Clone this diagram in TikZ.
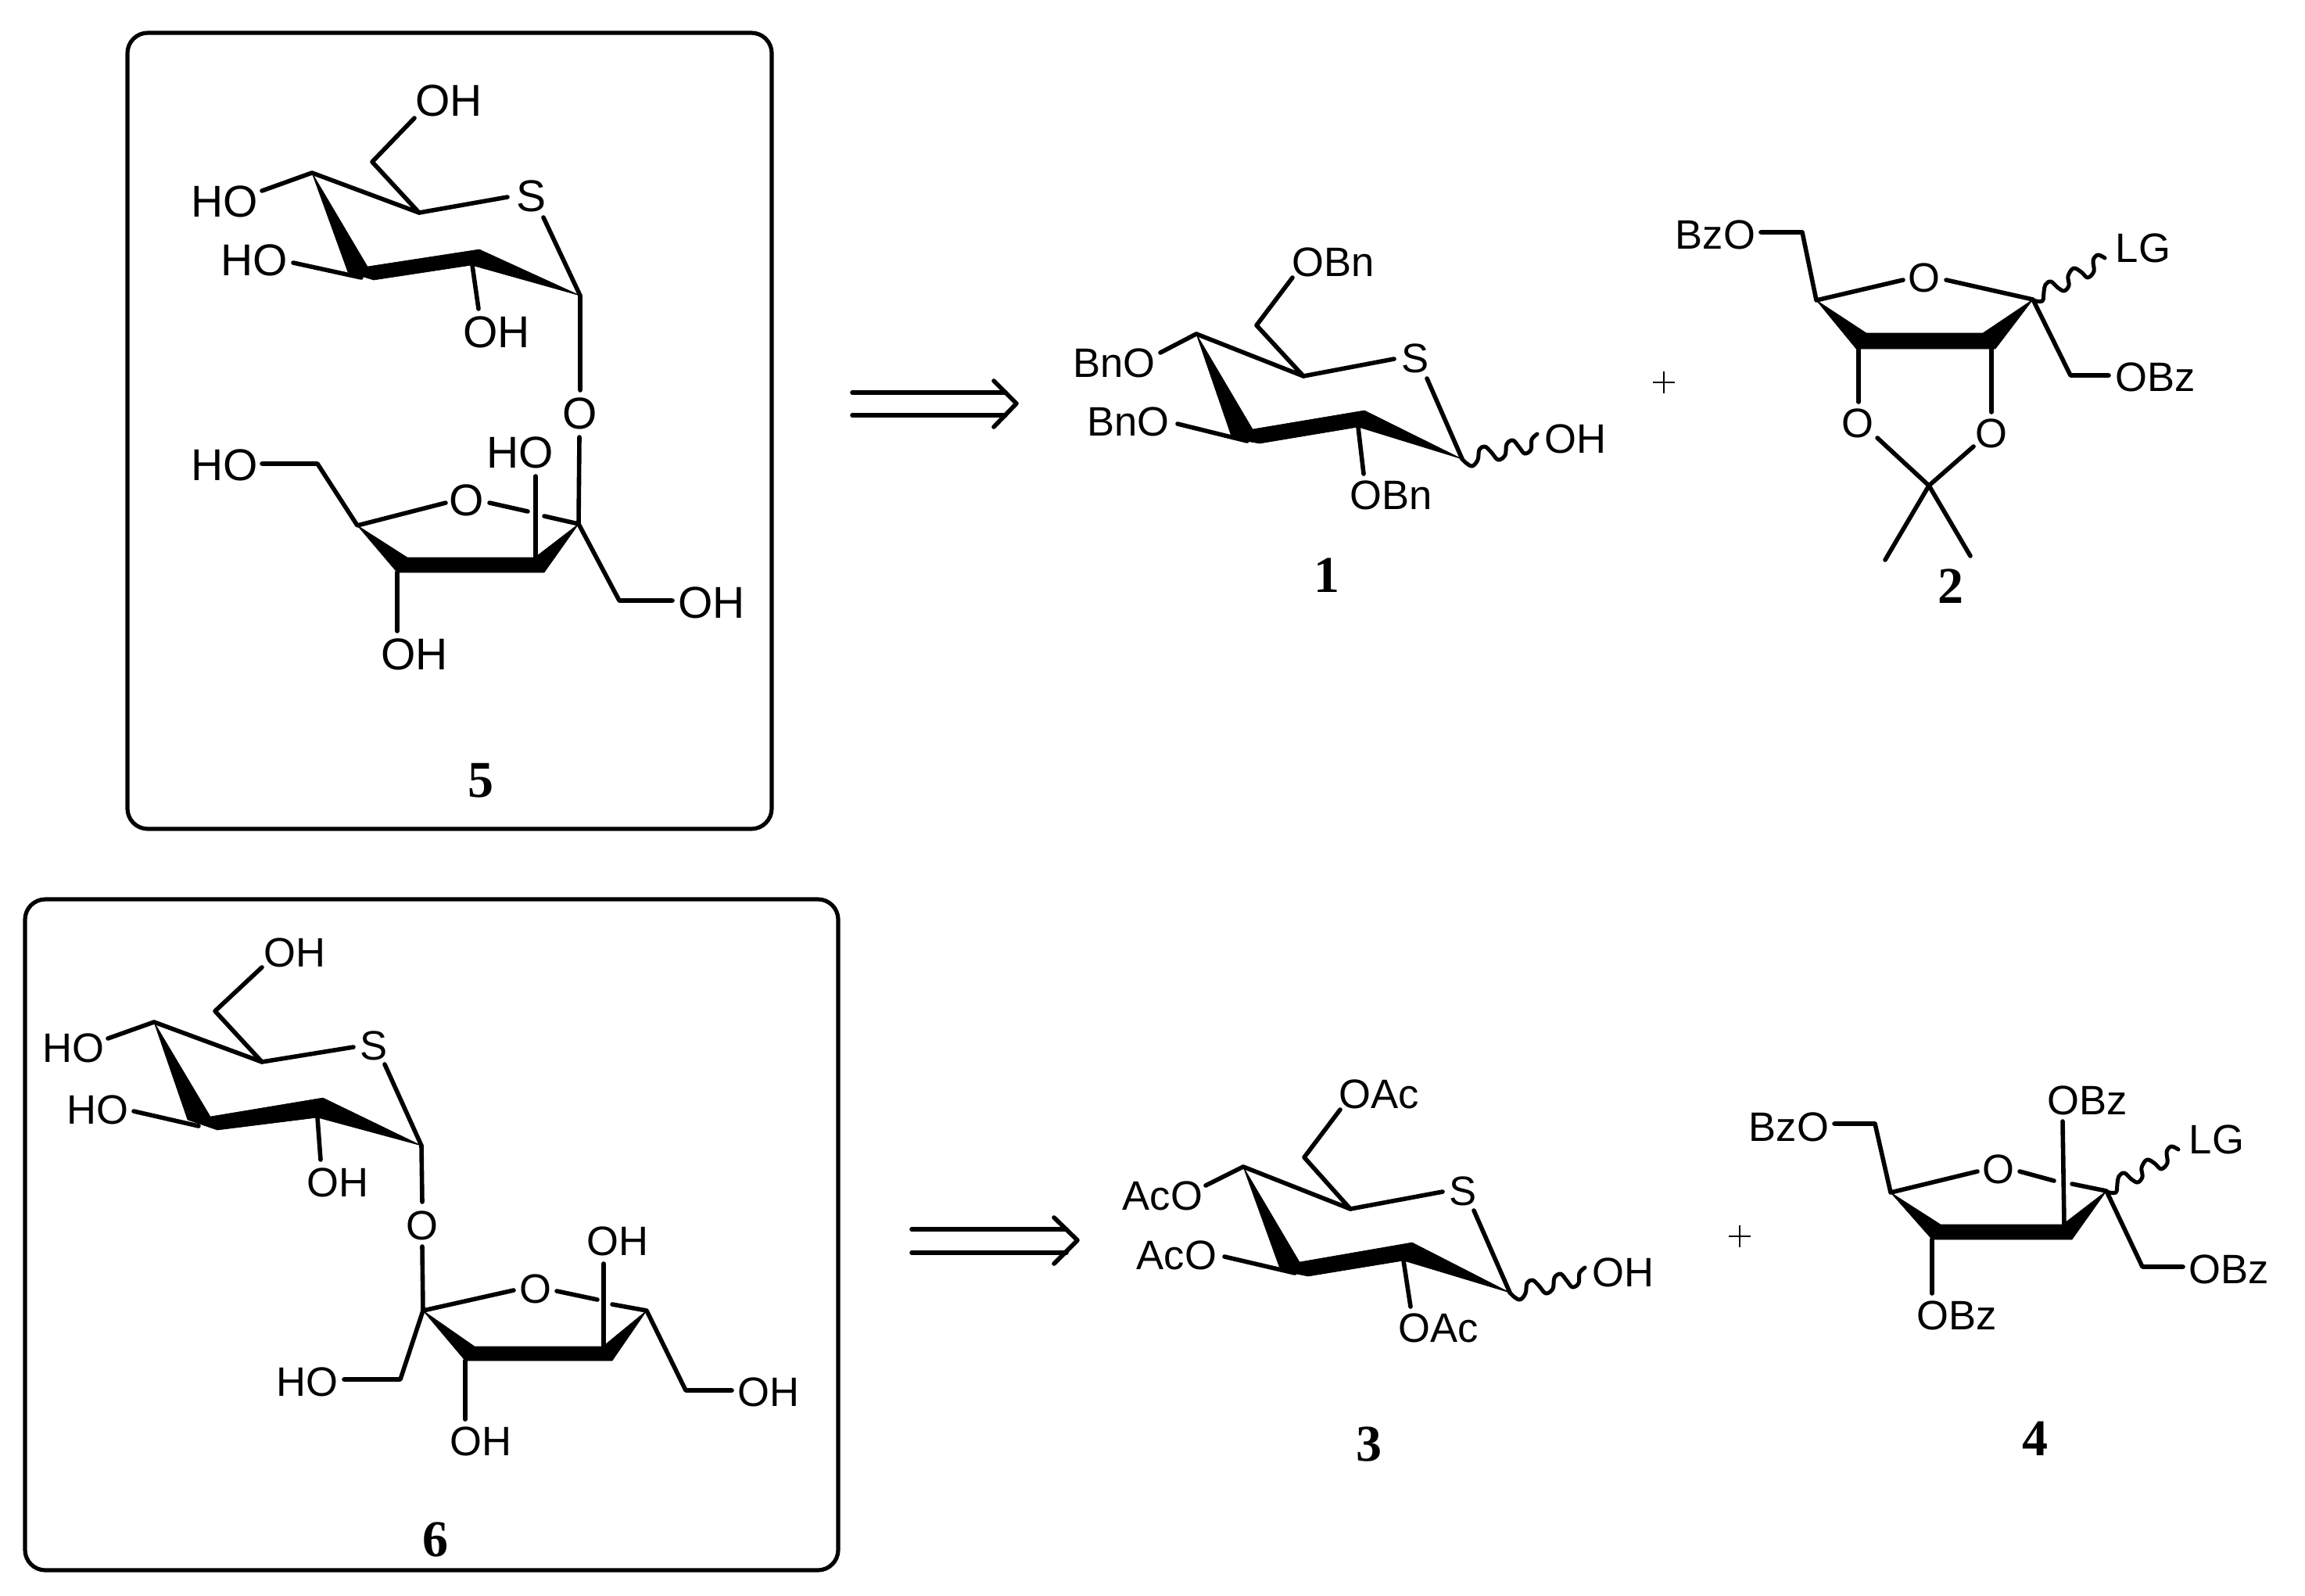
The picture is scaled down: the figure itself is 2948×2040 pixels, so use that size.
\documentclass[tikz,border=0pt]{standalone}
\usepackage{fontspec}
\setmainfont{Liberation Sans}
\newfontfamily\numfont{Liberation Serif}
\tikzset{
  x=0.5pt,y=-0.5pt,
  bond/.style={line width=2.8pt,line cap=round,line join=round},
  wavy/.style={line width=2.5pt,line cap=round,line join=round},
  wedge/.style={fill=black,draw=black,line width=0.3pt,line join=miter},
  framebox/.style={line width=2.6pt,rounded corners=13pt},
  atom/.style={inner sep=0pt,font=\fontsize{26.3pt}{26.3pt}\selectfont},
  atomb/.style={inner sep=0pt,font=\fontsize{28.5pt}{28.5pt}\selectfont},
  idlabel/.style={inner sep=0pt,font=\fontsize{33pt}{33pt}\selectfont\numfont\bfseries},
  plusline/.style={line width=1pt},
}
\newcommand\waveOH{plot[smooth,tension=0.6] coordinates {(1870,587) (1875,592) (1883,596) (1890,588) (1892,575) (1899,571) (1907,578) (1916,588) (1925,582) (1927,568) (1935,563) (1943,572) (1950,580) (1958,575) (1959,562) (1966,555)}}
\newcommand\waveLG{plot[smooth,tension=0.6] coordinates {(2600,384) (2612,385) (2614,373) (2616,364) (2623,360) (2632,368) (2640,372) (2646,365) (2645,353) (2652,343) (2662,348) (2670,355) (2678,347) (2677,333) (2683,326) (2692,330)}}
\begin{document}
\begin{tikzpicture}
\path[use as bounding box,fill=white] (0,0) rectangle (2948,2040);
% ---------- frames
\draw[framebox] (163,42) rectangle (987,1060);
\draw[framebox] (32,1150) rectangle (1072,2008);
% ---------- compound 5
\coordinate (e1) at (399,221); \coordinate (e2) at (536,272); \coordinate (e3) at (476,207);
\coordinate (e4) at (530,151); \coordinate (e5) at (649,252); \coordinate (e6) at (695,278);
\coordinate (e7) at (742,378); \coordinate (e8) at (335,244); \coordinate (e9) at (375,336);
\coordinate (e10) at (462,355); \coordinate (e11) at (604,339); \coordinate (e12) at (612,395);
\coordinate (e13) at (742,499); \coordinate (e14) at (741,559); \coordinate (e15) at (740,670);
\coordinate (e16) at (335,593); \coordinate (e17) at (406,593); \coordinate (e18) at (457,672);
\coordinate (e19) at (570,643); \coordinate (e20) at (626,643); \coordinate (e21) at (675,654);
\coordinate (e22) at (696,660); \coordinate (e23) at (685,609); \coordinate (e24) at (685,713);
\coordinate (e25) at (508,732); \coordinate (e26) at (508,807); \coordinate (e27) at (792,768);
\coordinate (e28) at (860,768);
\fill[wedge] (e1) -- (470,341) -- (613,319) -- (e7) -- (603,339) -- (478,358) -- (445,348) -- cycle;
\fill[wedge] (e18) -- (521,713) -- (684,713) -- (e15) -- (696,732) -- (e25) -- cycle;
\draw[bond] (e4) -- (e3) -- (e2) -- (e1) -- (e8);
\draw[bond] (e2) -- (e5);
\draw[bond] (e6) -- (e7) -- (e13);
\draw[bond] (e9) -- (e10);
\draw[bond] (e11) -- (e12);
\draw[bond] (e14) -- (e15) -- (e27) -- (e28);
\draw[bond] (e16) -- (e17) -- (e18) -- (e19);
\draw[bond] (e20) -- (e21);
\draw[bond] (e22) -- (e15);
\draw[bond] (e23) -- (e24);
\draw[bond] (e25) -- (e26);
\node[atomb] (e-oh1) at (574,129) {OH};
\node[atomb] (e-s) at (679,251) {S};
\node[atomb] (e-ho1) at (287,258) {HO};
\node[atomb] (e-ho2) at (325,333) {HO};
\node[atomb] (e-oh2) at (635,425) {OH};
\node[atomb] (e-o1) at (742,529) {O};
\node[atomb] (e-ho3) at (287,595) {HO};
\node[atomb] (e-o2) at (597,640) {O};
\node[atomb] (e-ho4) at (665,579) {HO};
\node[atomb] (e-oh3) at (530,837) {OH};
\node[atomb] (e-oh4) at (910,771) {OH};
\node[idlabel] (e-id) at (615,998) {5};
% ---------- compound 6
\coordinate (f1) at (197,1307); \coordinate (f2) at (335,1358); \coordinate (f3) at (275,1293);
\coordinate (f4) at (335,1237); \coordinate (f5) at (452,1339); \coordinate (f6) at (492,1361);
\coordinate (f7) at (539,1465); \coordinate (f8) at (138,1328); \coordinate (f9) at (171,1421);
\coordinate (f10) at (254,1440); \coordinate (f11) at (406,1429); \coordinate (f12) at (410,1483);
\coordinate (f13) at (540,1537); \coordinate (f14) at (540,1594); \coordinate (f15) at (541,1676);
\coordinate (f16) at (657,1650); \coordinate (f17) at (712,1651); \coordinate (f18) at (764,1662);
\coordinate (f19) at (783,1668); \coordinate (f20) at (827,1676); \coordinate (f21) at (772,1616);
\coordinate (f22) at (772,1724); \coordinate (f23) at (595,1740); \coordinate (f24) at (595,1815);
\coordinate (f25) at (512,1764); \coordinate (f26) at (440,1764); \coordinate (f27) at (877,1778);
\coordinate (f28) at (936,1778);
\fill[wedge] (f1) -- (269,1428) -- (413,1404) -- (f7) -- (f11) -- (278,1445) -- (240,1432) -- cycle;
\fill[wedge] (f15) -- (607,1722) -- (771,1722) -- (f20) -- (783,1740) -- (f23) -- cycle;
\draw[bond] (f4) -- (f3) -- (f2) -- (f1) -- (f8);
\draw[bond] (f2) -- (f5);
\draw[bond] (f6) -- (f7) -- (f13);
\draw[bond] (f9) -- (f10);
\draw[bond] (f11) -- (f12);
\draw[bond] (f14) -- (f15) -- (f16);
\draw[bond] (f17) -- (f18);
\draw[bond] (f19) -- (f20) -- (f27) -- (f28);
\draw[bond] (f21) -- (f22);
\draw[bond] (f23) -- (f24);
\draw[bond] (f15) -- (f25) -- (f26);
\node[atom] (f-oh1) at (377,1218) {OH};
\node[atom] (f-s) at (478,1337) {S};
\node[atom] (f-ho1) at (94,1340) {HO};
\node[atom] (f-ho2) at (125,1419) {HO};
\node[atom] (f-oh2) at (432,1512) {OH};
\node[atom] (f-o1) at (540,1567) {O};
\node[atom] (f-o2) at (685,1648) {O};
\node[atom] (f-oh3) at (790,1587) {OH};
\node[atom] (f-oh4) at (615,1843) {OH};
\node[atom] (f-ho3) at (393,1767) {HO};
\node[atom] (f-oh5) at (983,1780) {OH};
\node[idlabel] (f-id) at (557,1969) {6};
% ---------- retro arrows
\coordinate (r1a) at (1090,502); \coordinate (r1b) at (1286,502); \coordinate (r1c) at (1090,531);
\coordinate (r1d) at (1286,531); \coordinate (r1t) at (1300,516); \coordinate (r1u) at (1271,487);
\coordinate (r1l) at (1271,546);
\draw[bond] (r1a) -- (r1b); \draw[bond] (r1c) -- (r1d); \draw[bond] (r1u) -- (r1t) -- (r1l);
\coordinate (r2a) at (1166,1572); \coordinate (r2b) at (1364,1572); \coordinate (r2c) at (1166,1602);
\coordinate (r2d) at (1364,1602); \coordinate (r2t) at (1378,1586); \coordinate (r2u) at (1348,1557);
\coordinate (r2l) at (1348,1616);
\draw[bond] (r2a) -- (r2b); \draw[bond] (r2c) -- (r2d); \draw[bond] (r2u) -- (r2t) -- (r2l);
% ---------- compound 1
\coordinate (a1) at (1530,427); \coordinate (a2) at (1667,481); \coordinate (a3) at (1607,416);
\coordinate (a4) at (1653,355); \coordinate (a5) at (1783,459); \coordinate (a6) at (1825,484);
\coordinate (a7) at (1870,587); \coordinate (a8) at (1484,451); \coordinate (a9) at (1506,542);
\coordinate (a10) at (1595,564); \coordinate (a11) at (1737,546); \coordinate (a12) at (1744,606);
\fill[wedge] (a1) -- (1602,549) -- (1745,525) -- (a7) -- (a11) -- (1611,567) -- (1576,561) -- cycle;
\draw[bond] (a4) -- (a3) -- (a2) -- (a1) -- (a8);
\draw[bond] (a2) -- (a5);
\draw[bond] (a6) -- (a7);
\draw[bond] (a9) -- (a10);
\draw[bond] (a11) -- (a12);
\draw[wavy] \waveOH;
\node[atom] (a-o1) at (1705,335) {OBn};
\node[atom] (a-s) at (1810,458) {S};
\node[atom] (a-o2) at (1425,464) {BnO};
\node[atom] (a-o3) at (1443,539) {BnO};
\node[atom] (a-o4) at (1779,633) {OBn};
\node[atom] (a-oh) at (2015,561) {OH};
\node[idlabel] (a-id) at (1697,736) {1};
% ---------- compound 2
\coordinate (b1) at (2252,297); \coordinate (b2) at (2305,297); \coordinate (b3) at (2323,384);
\coordinate (b4) at (2434,358); \coordinate (b5) at (2489,358); \coordinate (b6) at (2600,383);
\coordinate (b7) at (2377,446); \coordinate (b8) at (2377,514); \coordinate (b9) at (2547,446);
\coordinate (b10) at (2547,527); \coordinate (b11) at (2401,560); \coordinate (b12) at (2467,621);
\coordinate (b13) at (2524,571); \coordinate (b14) at (2411,716); \coordinate (b15) at (2520,711);
\coordinate (b16) at (2648,480); \coordinate (b17) at (2697,480);
\fill[wedge] (b3) -- (2387,426) -- (2536,426) -- (b6) -- (2552,446) -- (2374,446) -- cycle;
\draw[bond] (b1) -- (b2) -- (b3) -- (b4);
\draw[bond] (b5) -- (b6) -- (b16) -- (b17);
\draw[bond] (b7) -- (b8);
\draw[bond] (b9) -- (b10);
\draw[bond] (b11) -- (b12) -- (b13);
\draw[bond] (b14) -- (b12) -- (b15);
\draw[wavy] \waveLG;
\node[atom] (b-bzo) at (2194,300) {BzO};
\node[atom] (b-o) at (2461,355) {O};
\node[atom] (b-o2) at (2376,541) {O};
\node[atom] (b-o3) at (2547,554) {O};
\node[atom] (b-lg) at (2741,317) {LG};
\node[atom] (b-obz) at (2757,482) {OBz};
\node[idlabel] (b-id) at (2495,750) {2};
\coordinate (p1a) at (2114,489); \coordinate (p1b) at (2142,489); \coordinate (p1c) at (2128,475); \coordinate (p1d) at (2128,503);
\draw[plusline] (p1a) -- (p1b); \draw[plusline] (p1c) -- (p1d);
% ---------- compound 3
\coordinate (c1) at (1590,1492); \coordinate (c2) at (1727,1546); \coordinate (c3) at (1668,1480);
\coordinate (c4) at (1714,1419); \coordinate (c5) at (1845,1524); \coordinate (c6) at (1885,1548);
\coordinate (c7) at (1931,1653); \coordinate (c8) at (1542,1516); \coordinate (c9) at (1566,1607);
\coordinate (c10) at (1656,1628); \coordinate (c11) at (1795,1612); \coordinate (c12) at (1804,1671);
\fill[wedge] (c1) -- (1662,1614) -- (1806,1589) -- (c7) -- (c11) -- (1673,1632) -- (1638,1625) -- cycle;
\draw[bond] (c4) -- (c3) -- (c2) -- (c1) -- (c8);
\draw[bond] (c2) -- (c5);
\draw[bond] (c6) -- (c7);
\draw[bond] (c9) -- (c10);
\draw[bond] (c11) -- (c12);
\begin{scope}[shift={(61,1066)}]
\draw[wavy] \waveOH;
\end{scope}
\node[atom] (c-o1) at (1764,1399) {OAc};
\node[atom] (c-s) at (1871,1523) {S};
\node[atom] (c-o2) at (1487,1529) {AcO};
\node[atom] (c-o3) at (1505,1605) {AcO};
\node[atom] (c-o4) at (1840,1698) {OAc};
\node[atom] (c-oh) at (2076,1627) {OH};
\node[idlabel] (c-id) at (1751,1847) {3};
% ---------- compound 4
\coordinate (d1) at (2346,1437); \coordinate (d2) at (2398,1437); \coordinate (d3) at (2418,1525);
\coordinate (d4) at (2529,1498); \coordinate (d5) at (2583,1498); \coordinate (d6) at (2627,1510);
\coordinate (d7) at (2650,1514); \coordinate (d8) at (2694,1523); \coordinate (d9) at (2638,1434);
\coordinate (d10) at (2640,1567); \coordinate (d11) at (2471,1585); \coordinate (d12) at (2471,1654);
\coordinate (d13) at (2740,1620); \coordinate (d14) at (2792,1620);
\fill[wedge] (d3) -- (2482,1566) -- (2638,1566) -- (d8) -- (2650,1585) -- (d11) -- cycle;
\draw[bond] (d1) -- (d2) -- (d3) -- (d4);
\draw[bond] (d5) -- (d6);
\draw[bond] (d7) -- (d8) -- (d13) -- (d14);
\draw[bond] (d9) -- (d10);
\draw[bond] (d11) -- (d12);
\begin{scope}[shift={(94,1140)}]
\draw[wavy] \waveLG;
\end{scope}
\node[atom] (d-bzo) at (2288,1441) {BzO};
\node[atom] (d-o) at (2556,1495) {O};
\node[atom] (d-o2) at (2670,1407) {OBz};
\node[atom] (d-o3) at (2503,1682) {OBz};
\node[atom] (d-lg) at (2835,1457) {LG};
\node[atom] (d-o4) at (2851,1623) {OBz};
\node[idlabel] (d-id) at (2603,1840) {4};
\coordinate (p2a) at (2211,1581); \coordinate (p2b) at (2239,1581); \coordinate (p2c) at (2225,1567); \coordinate (p2d) at (2225,1595);
\draw[plusline] (p2a) -- (p2b); \draw[plusline] (p2c) -- (p2d);
\end{tikzpicture}
\end{document}
